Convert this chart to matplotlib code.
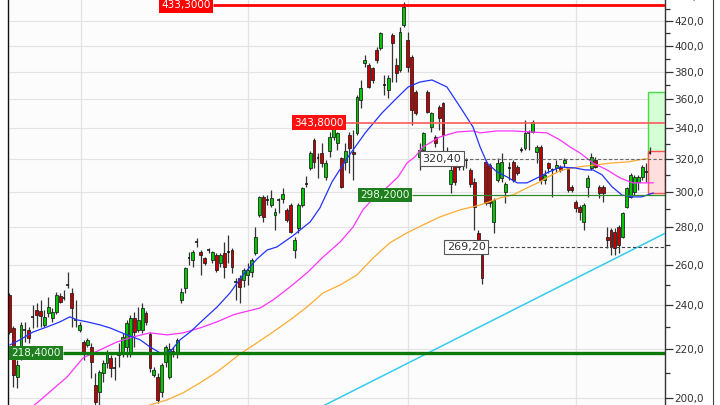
import matplotlib
matplotlib.use("Agg")
import matplotlib.pyplot as plt
from matplotlib.ticker import FixedLocator, FuncFormatter, NullFormatter
from matplotlib.patches import Rectangle
from matplotlib.lines import Line2D
import numpy as np

# ---------------- data ----------------
opens = [245.0, 229.5, 208.4, 218.9, 228.4, 228.6, 234.4, 237.8, 237.3, 230.9,
         236.4, 234.1, 236.9, 244.5, 243.3, 249.6, 245.9, 233.4, 228.6, 223.3,
         222.0, 221.1, 205.2, 202.4, 210.0, 214.3, 216.4, 212.0, 217.7, 218.9,
         221.1, 218.5, 234.1, 228.6, 228.6, 236.4, 226.8, 209.2, 208.4, 202.4,
         214.7, 208.4, 218.7, 218.9, 242.5, 248.4, 263.2, 262.4, 271.7, 266.6,
         263.4, 267.4, 262.4, 265.0, 260.9, 266.1, 266.4, 267.6, 251.1, 253.3,
         252.3, 254.8, 256.3, 266.1, 286.7, 297.1, 295.1, 292.4, 286.7, 295.1,
         295.9, 289.6, 292.4, 267.6, 279.5, 292.4, 304.6, 314.5, 332.3, 320.6,
         323.9, 309.0, 325.2, 334.3, 330.4, 320.8, 318.3, 335.6, 324.6, 337.0,
         359.6, 386.7, 385.2, 382.9, 396.8, 398.4, 370.2, 366.7, 408.6, 385.2,
         381.4, 416.8, 404.6, 391.3, 365.3, 321.4, 325.9, 365.3, 340.9, 334.3,
         354.6, 357.4, 324.6, 304.8, 316.4, 315.1, 316.4, 319.3, 313.3, 306.0,
         276.8, 265.0, 318.3, 316.4, 282.8, 307.2, 308.4, 300.0, 314.3, 318.3,
         315.1, 325.7, 327.2, 336.8, 337.6, 324.6, 327.8, 307.2, 317.6, 313.1,
         314.5, 315.1, 317.6, 314.5, 303.0, 294.1, 291.3, 282.8, 303.0, 314.5,
         319.5, 303.0, 303.0, 274.6, 278.4, 277.3, 280.0, 274.6, 291.3, 297.1,
         300.0, 306.0, 309.0, 312.1, 323.8]
highs = [245.9, 230.4, 215.5, 232.3, 232.3, 230.0, 240.1, 241.1, 242.5, 237.8,
         243.9, 238.7, 246.4, 245.9, 247.4, 256.3, 248.4, 242.5, 232.3, 224.2,
         225.1, 222.9, 210.0, 211.3, 215.5, 219.8, 217.7, 216.8, 222.9, 227.3,
         233.2, 235.5, 236.9, 239.2, 241.1, 237.3, 227.7, 212.5, 210.0, 214.3,
         222.0, 222.9, 221.1, 225.1, 248.4, 258.8, 266.6, 267.6, 274.0, 267.6,
         263.9, 268.7, 267.0, 266.1, 266.1, 271.9, 275.7, 268.7, 253.3, 254.8,
         258.3, 260.9, 263.4, 280.0, 297.7, 298.2, 298.2, 301.2, 290.7, 296.5,
         302.4, 290.7, 293.6, 274.6, 293.6, 303.0, 309.6, 325.2, 333.6, 323.9,
         330.4, 319.5, 337.6, 342.3, 337.6, 321.4, 330.4, 337.6, 338.9, 363.1,
         374.0, 392.9, 386.7, 383.7, 399.1, 411.1, 377.7, 377.7, 410.3, 390.6,
         415.2, 436.0, 411.1, 392.9, 366.7, 330.4, 337.6, 366.7, 351.1, 335.6,
         356.0, 358.1, 327.8, 316.4, 319.5, 320.8, 323.9, 320.8, 314.5, 308.4,
         278.4, 266.6, 319.5, 317.6, 296.5, 320.8, 323.9, 306.0, 318.3, 319.5,
         316.4, 327.8, 345.7, 338.9, 345.7, 329.1, 329.1, 313.3, 318.3, 314.5,
         319.5, 316.4, 320.8, 315.1, 304.2, 295.3, 292.4, 293.6, 310.3, 323.9,
         321.4, 304.2, 304.2, 280.0, 279.5, 279.5, 281.1, 288.5, 303.0, 311.5,
         310.3, 310.3, 316.4, 317.6, 327.8]
lows = [226.8, 204.4, 204.0, 215.5, 223.3, 222.9, 229.5, 230.0, 230.0, 230.0,
        234.6, 232.3, 236.0, 241.1, 242.5, 248.4, 230.0, 230.0, 227.7, 215.5,
        221.1, 208.0, 197.2, 197.2, 206.4, 212.1, 208.4, 207.2, 212.5, 216.8,
        216.8, 216.8, 221.1, 227.7, 227.3, 230.9, 210.5, 208.4, 198.0, 200.4,
        212.5, 207.6, 216.8, 216.4, 241.1, 245.9, 259.8, 258.8, 269.2, 254.8,
        259.8, 266.1, 260.9, 256.3, 258.8, 253.3, 260.9, 255.8, 242.5, 241.1,
        248.9, 249.8, 253.8, 265.0, 285.6, 282.8, 292.4, 291.3, 278.4, 287.9,
        293.6, 282.8, 276.8, 263.4, 276.8, 291.3, 303.0, 313.3, 314.5, 308.4,
        315.1, 307.2, 321.4, 332.3, 325.9, 302.4, 313.3, 311.5, 307.2, 335.6,
        353.9, 383.7, 368.2, 371.8, 386.7, 396.8, 363.1, 361.0, 372.5, 372.5,
        379.9, 415.2, 379.9, 342.3, 349.1, 313.3, 324.6, 350.5, 337.6, 327.8,
        338.9, 319.5, 317.6, 299.5, 304.2, 313.3, 313.3, 314.5, 303.0, 278.4,
        268.7, 250.4, 292.4, 291.3, 276.8, 306.0, 306.0, 293.6, 307.2, 306.0,
        310.3, 324.6, 325.9, 325.9, 337.0, 317.6, 304.8, 304.8, 311.5, 297.1,
        312.1, 312.1, 315.1, 300.0, 300.0, 288.5, 283.9, 278.4, 297.1, 313.3,
        314.5, 296.5, 294.1, 268.7, 265.0, 265.0, 266.1, 274.0, 290.7, 296.5,
        298.2, 301.2, 307.2, 306.0, 323.2]
closes = [227.7, 209.2, 213.4, 230.9, 228.8, 225.1, 234.8, 235.5, 235.0, 234.6,
          239.2, 236.9, 245.0, 241.6, 243.7, 250.0, 238.7, 233.0, 230.9, 218.9,
          224.2, 214.7, 198.4, 210.5, 214.3, 218.1, 212.1, 212.2, 218.9, 225.5,
          231.8, 234.1, 227.7, 233.2, 238.7, 232.3, 212.1, 211.3, 199.2, 213.4,
          221.1, 220.2, 219.1, 224.2, 246.4, 258.3, 263.6, 266.6, 272.1, 265.0,
          260.9, 267.8, 266.6, 257.3, 265.0, 258.8, 266.8, 258.8, 251.5, 248.9,
          257.3, 257.3, 262.4, 274.6, 297.1, 285.6, 295.5, 296.5, 288.5, 295.5,
          298.9, 283.9, 277.3, 273.0, 292.4, 302.4, 305.0, 323.9, 318.3, 321.0,
          317.6, 317.6, 334.3, 340.3, 337.0, 303.0, 325.2, 327.2, 323.2, 361.7,
          368.2, 389.0, 368.9, 374.0, 389.0, 410.3, 370.6, 375.5, 402.3, 379.2,
          411.1, 431.8, 383.7, 352.5, 350.5, 325.9, 337.0, 351.1, 350.5, 330.4,
          347.1, 335.6, 319.5, 313.3, 306.0, 319.5, 319.5, 319.7, 304.8, 291.3,
          273.0, 253.3, 293.6, 293.6, 295.3, 317.6, 318.3, 304.8, 314.7, 307.2,
          311.5, 326.1, 337.0, 337.2, 344.3, 327.8, 307.2, 310.3, 314.5, 313.5,
          316.4, 313.3, 319.5, 301.2, 301.2, 290.7, 288.5, 292.4, 308.4, 321.4,
          315.1, 299.5, 299.5, 273.0, 269.2, 268.7, 270.2, 287.9, 302.4, 310.3,
          309.0, 309.0, 315.1, 312.5, 324.4]

# moving averages (bar position, price)
ma_blue_x = [0.2, 2.7, 6.1, 9.7, 13.0, 15.5, 17.3, 19.9, 23.2, 25.8, 30.1, 33.5,
             36.0, 38.6, 41.1, 43.7, 46.3, 49.6, 53.2, 56.5, 59.8, 63.4, 66.0,
             68.5, 72.6, 77.0, 79.5, 82.6, 86.7, 91.1, 95.4, 98.7, 102.1, 105.1,
             108.2, 112.0, 115.4, 118.7, 120.5, 122.3, 124.8, 127.4, 130.0, 132.5,
             135.1, 137.6, 141.0, 144.8, 147.4, 149.4, 151.7, 154.3, 156.8, 159.4,
             161.9, 164.8]
ma_blue_y = [222.0, 224.2, 227.7, 230.0, 232.3, 234.6, 233.2, 232.3, 230.9, 229.5,
             226.4, 224.2, 221.1, 218.5, 218.9, 224.2, 227.7, 233.2, 239.2, 245.9,
             254.8, 262.9, 267.6, 269.2, 275.2, 282.8, 290.7, 306.0, 321.4, 337.0,
             350.5, 359.6, 368.9, 372.5, 374.0, 368.9, 354.6, 340.9, 327.8, 317.6,
             312.1, 309.0, 305.4, 305.4, 308.4, 311.5, 315.1, 314.5, 313.3, 313.3,
             310.3, 303.0, 298.2, 297.1, 297.1, 299.4]
ma_pink_x = [5.3, 7.1, 14.8, 18.9, 23.2, 27.6, 31.7, 36.0, 40.4, 44.5, 48.8, 53.2,
             57.3, 59.1, 64.2, 67.5, 71.9, 76.2, 80.3, 84.7, 88.0, 90.5, 92.8,
             95.4, 99.5, 101.8, 103.8, 105.9, 110.2, 114.6, 118.7, 120.5, 124.8,
             128.9, 133.3, 137.6, 141.0, 143.5, 146.1, 149.4, 153.0, 156.3, 159.6,
             163.2, 164.8]
ma_pink_y = [196.0, 198.0, 208.4, 216.4, 219.8, 223.3, 225.5, 227.3, 226.4, 227.3,
             229.5, 232.3, 235.5, 236.4, 238.7, 242.5, 248.9, 255.8, 263.9, 271.9,
             280.0, 289.6, 295.3, 299.9, 309.0, 317.6, 321.4, 327.8, 334.3, 337.6,
             338.3, 337.0, 338.3, 338.3, 337.6, 337.0, 332.3, 327.8, 323.9, 317.6,
             313.3, 308.4, 305.4, 305.4, 305.4]
ma_orange_x = [33.0, 36.0, 40.4, 44.5, 48.8, 53.2, 59.1, 63.4, 67.5, 71.9, 76.2,
               80.3, 84.7, 89.0, 93.1, 97.4, 101.8, 105.9, 110.2, 115.4, 120.5,
               125.6, 128.9, 132.5, 135.8, 137.9, 141.5, 145.6, 149.9, 154.3, 158.4,
               162.7, 163.5]
ma_orange_y = [196.0, 197.2, 199.2, 202.0, 206.0, 210.5, 218.1, 222.9, 227.7, 233.2,
               239.2, 245.9, 249.8, 254.8, 263.4, 271.4, 276.8, 281.1, 285.6, 289.6,
               292.4, 296.5, 298.2, 302.4, 306.0, 309.0, 313.3, 315.1, 316.4, 317.6,
               318.3, 320.2, 320.2]
trend_x = [80.8, 167.8]
trend_y = [197.2, 276.5]

# horizontal levels
level_high = 433.3
level_res = 343.8
level_sup = 298.2
level_low = 218.4
level_d1 = 320.4
level_d2 = 269.2
y_ticks = [200, 220, 240, 260, 280, 300, 320, 340, 360, 380, 400, 420]
y_minor = [210, 230, 250, 270, 290, 310, 330, 350, 370, 390, 410, 430]
v_grid = [18.35, 61.1, 102.0, 145.0]

# ---------------- figure ----------------
W, H = 720, 405
fig = plt.figure(figsize=(7.2, 4.05), dpi=100)
fig.patch.set_facecolor("white")
ax = fig.add_axes([7.5 / W, 0.0, (665 - 7.5) / W, 1.0])
ax.set_facecolor("#fcfcfc")
ax.set_yscale("log")
XMAX = 167.83
ax.set_xlim(-0.46, XMAX)
ax.set_ylim(197.2, 437.8)

# grid
for p in y_ticks:
    ax.axhline(p, color="#e3e3e3", lw=0.8, zorder=0)
for v in v_grid:
    ax.axvline(v, color="#e3e3e3", lw=0.9, zorder=0)

# right boxes
ax.add_patch(Rectangle((163.5, 320.0), XMAX - 163.5, 365.0 - 320.0,
                       fc="#d4ffd4", ec="#44dd44", lw=1.0, zorder=1.2))
ax.add_patch(Rectangle((163.5, 299.5), XMAX - 163.5, 325.0 - 299.5,
                       fc="#ffdede", ec="#ff5050", lw=1.0, zorder=1.3))

# candles
o = np.array(opens); h = np.array(highs); l = np.array(lows); c = np.array(closes)
idx = np.arange(len(o))
ax.vlines(idx, l, h, color="#333333", lw=0.9, zorder=2)
up = c >= o
bw = 0.74
for i in idx:
    lo_, hi_ = min(o[i], c[i]), max(o[i], c[i])
    if hi_ - lo_ < 0.8:
        ax.hlines((o[i] + c[i]) / 2, i - bw / 2, i + bw / 2, color="#111111",
                  lw=1.1, zorder=2.5)
    else:
        ax.add_patch(Rectangle((i - bw / 2, lo_), bw, hi_ - lo_,
                               fc="#00c800" if up[i] else "#c00000",
                               ec="#1a1a1a", lw=0.55, zorder=2.5))

# moving averages and trend line
ax.plot(ma_orange_x, ma_orange_y, color="#ffaa33", lw=0.9, zorder=3)
ax.plot(ma_pink_x, ma_pink_y, color="#ff33ff", lw=0.9, zorder=3)
ax.plot(ma_blue_x, ma_blue_y, color="#2233ff", lw=0.9, zorder=3)
ax.plot(trend_x, trend_y, color="#33ccee", lw=1.1, zorder=3)

# level lines with labels
def level(price, start, text, lc, lw, fc, tc, ec="none", ls="-", fs=7.5):
    ax.plot([start, XMAX], [price, price], color=lc, lw=lw, ls=ls, zorder=3.5,
            solid_capstyle="butt")
    ax.text(start - 0.6, price, text, ha="right", va="center", fontsize=fs,
            color=tc, zorder=5,
            bbox=dict(boxstyle="square,pad=0.22", fc=fc, ec=ec, lw=0.8))

level(level_high, 52.1, "433,3000", "#ff0000", 2.0, "#ff0000", "white")
level(level_res, 86.2, "343,8000", "#ff5a5a", 1.2, "#ff1010", "white")
level(level_sup, 103.1, "298,2000", "#2e8b2e", 0.9, "#1f7f1f", "#e8ffe8")
level(level_low, 13.8, "218,4000", "#0a7a0a", 2.4, "#1f7f1f", "#e8ffe8")
level(level_d1, 116.3, "320,40", "#666666", 0.8, "white", "#333333",
      ec="#555555", ls=(0, (3, 2)), fs=8)
level(level_d2, 122.5, "269,20", "#444444", 0.8, "white", "#333333",
      ec="#555555", ls=(0, (3, 2)), fs=8)

# axes styling
for s in ("top", "bottom"):
    ax.spines[s].set_visible(False)
ax.spines["left"].set_color("#111111")
ax.spines["left"].set_linewidth(1.0)
ax.spines["right"].set_color("#333333")
ax.spines["right"].set_linewidth(1.0)
ax.yaxis.tick_right()
ax.yaxis.set_major_locator(FixedLocator(y_ticks))
ax.yaxis.set_minor_locator(FixedLocator(y_minor))
ax.yaxis.set_major_formatter(FuncFormatter(lambda v, p: f"{v:.1f}".replace(".", ",")))
ax.yaxis.set_minor_formatter(NullFormatter())
ax.tick_params(axis="y", which="major", length=5.5, width=0.9, color="#333333",
               labelsize=7.5, labelcolor="#333333", pad=1)
ax.tick_params(axis="y", which="minor", length=3.6, width=0.9, color="#333333")
ax.tick_params(axis="x", which="both", bottom=False, labelbottom=False)
ax.text(1.0126, 440, "440,0", transform=ax.get_yaxis_transform(), ha="left",
        va="center", fontsize=7.5, color="#333333", clip_on=False)

fig.add_artist(Line2D([713 / W, 713 / W], [0, 1], color="#444444", lw=0.8))

fig.savefig("out.png", dpi=100)
